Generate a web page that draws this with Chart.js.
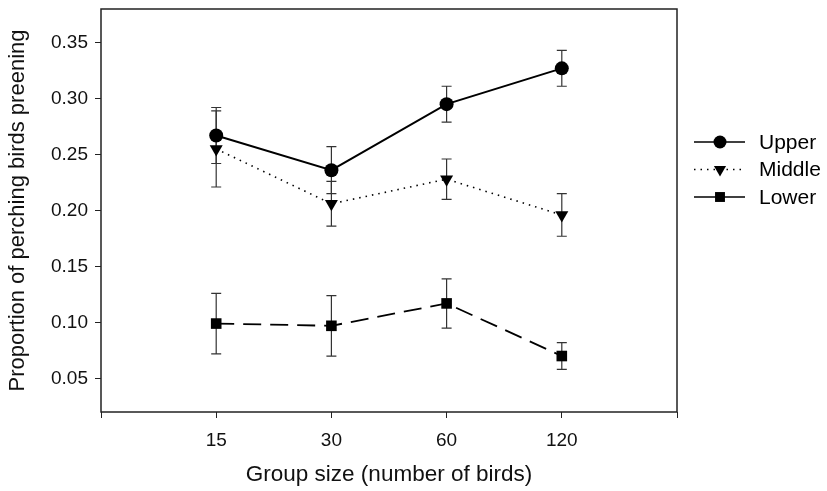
<!DOCTYPE html>
<html>
<head>
<meta charset="utf-8">
<script src="https://cdn.jsdelivr.net/npm/chart.js@4.4.0/dist/chart.umd.min.js"></script>
<style>
  html, body { margin: 0; padding: 0; background: #fff; }
  #wrap { width: 827px; height: 491px; }
</style>
</head>
<body>
<div id="wrap"><canvas id="preenChart" width="827" height="491"></canvas></div>
<script>
// values
const groupSizes = ['15', '30', '60', '120'];
const upperMeans = [0.267, 0.236, 0.295, 0.327];
const upperErr = [0.025, 0.021, 0.016, 0.016];
const middleMeans = [0.255, 0.206, 0.228, 0.196];
const middleErr = [0.034, 0.020, 0.018, 0.019];
const lowerMeans = [0.099, 0.097, 0.117, 0.070];
const lowerErr = [0.027, 0.027, 0.022, 0.012];
const yTickValues = [0.05, 0.10, 0.15, 0.20, 0.25, 0.30, 0.35];

const FONT = '"Liberation Sans", Arial, sans-serif';
const toPoints = (arr) => arr.map((v, i) => ({ x: i + 1, y: v }));

const series = [
    { label: 'Upper', means: upperMeans, err: upperErr, dash: [], legendDash: [], width: 2, point: 'circle', radius: 7, rotation: 0 },
    { label: 'Middle', means: middleMeans, err: middleErr, dash: [1.5, 5], legendDash: [1.5, 5], width: 1.6, point: 'triangle', radius: 7.5, rotation: 180 },
    { label: 'Lower', means: lowerMeans, err: lowerErr, dash: [18, 9], legendDash: [], width: 1.8, point: 'rect', radius: 7.5, rotation: 0 }
];

// error bars, drawn under the markers
const errorBars = {
    id: 'errorBars',
    beforeDatasetsDraw(chart) {
        const ctx = chart.ctx;
        const xs = chart.scales.x, ys = chart.scales.y;
        ctx.save();
        ctx.strokeStyle = '#333';
        ctx.lineWidth = 1.2;
        series.forEach(s => {
            s.means.forEach((m, i) => {
                const px = xs.getPixelForValue(i + 1);
                const top = ys.getPixelForValue(m + s.err[i]);
                const bot = ys.getPixelForValue(m - s.err[i]);
                ctx.beginPath();
                ctx.moveTo(px, top); ctx.lineTo(px, bot);
                ctx.moveTo(px - 5, top); ctx.lineTo(px + 5, top);
                ctx.moveTo(px - 5, bot); ctx.lineTo(px + 5, bot);
                ctx.stroke();
            });
        });
        ctx.restore();
    }
};

// frame around the plot and the legend on the right
const frameAndLegend = {
    id: 'frameAndLegend',
    afterDraw(chart) {
        const ctx = chart.ctx;
        const a = chart.chartArea;
        ctx.save();
        ctx.strokeStyle = '#222';
        ctx.lineWidth = 1.5;
        ctx.strokeRect(a.left, a.top, a.right - a.left, a.bottom - a.top);

        const lx = a.right + 17;
        let ly = a.top + 133;
        ctx.font = '21px ' + FONT;
        ctx.textBaseline = 'middle';
        series.forEach(s => {
            ctx.strokeStyle = '#000';
            ctx.lineWidth = s.label === 'Middle' ? 1.4 : 1.6;
            ctx.setLineDash(s.legendDash);
            ctx.beginPath();
            ctx.moveTo(lx, ly); ctx.lineTo(lx + 51, ly);
            ctx.stroke();
            ctx.setLineDash([]);
            ctx.fillStyle = '#000';
            Chart.helpers.drawPoint(ctx, {
                pointStyle: s.point, radius: s.radius - 0.5, rotation: s.rotation, borderWidth: 0
            }, lx + 26, ly);
            ctx.fillText(s.label, lx + 65, ly + 1);
            ly += 27.5;
        });
        ctx.restore();
    }
};

new Chart(document.getElementById('preenChart'), {
    type: 'line',
    data: {
        datasets: series.map(s => ({
            label: s.label,
            data: toPoints(s.means),
            borderColor: '#000',
            backgroundColor: '#000',
            borderWidth: s.width,
            borderDash: s.dash,
            pointStyle: s.point,
            pointRadius: s.radius,
            pointRotation: s.rotation,
            pointBorderWidth: 0,
            pointBackgroundColor: '#000',
            tension: 0,
            fill: false
        }))
    },
    options: {
        responsive: false,
        animation: false,
        events: [],
        layout: { padding: { top: 9, right: 150, left: 0, bottom: 0 } },
        plugins: { legend: { display: false }, tooltip: { enabled: false } },
        scales: {
            x: {
                type: 'linear',
                min: 0,
                max: 5,
                afterBuildTicks: (scale) => {
                    scale.ticks = [0, 1, 2, 3, 4, 5].map(v => ({ value: v }));
                },
                afterFit: (scale) => {
                    scale.height = 79;
                    scale.paddingLeft = 0;
                    scale.paddingRight = 0;
                },
                ticks: {
                    autoSkip: false,
                    maxRotation: 0,
                    padding: 11,
                    color: '#111',
                    font: { family: FONT, size: 19 },
                    callback: (v) => groupSizes[v - 1] || ''
                },
                grid: { drawOnChartArea: false, drawTicks: true, tickLength: 6, color: '#222' },
                border: { display: false },
                title: {
                    display: true,
                    text: 'Group size (number of birds)',
                    color: '#111',
                    font: { family: FONT, size: 22.5 },
                    padding: { top: 5, bottom: 3 }
                }
            },
            y: {
                min: 0.02,
                max: 0.38,
                afterBuildTicks: (scale) => {
                    scale.ticks = yTickValues.map(v => ({ value: v }));
                },
                afterFit: (scale) => {
                    scale.width = 101;
                    scale.paddingTop = 0;
                    scale.paddingBottom = 0;
                },
                ticks: {
                    padding: 7,
                    color: '#111',
                    font: { family: FONT, size: 19 },
                    callback: (v) => Number(v).toFixed(2)
                },
                grid: { drawOnChartArea: false, drawTicks: true, tickLength: 6, color: '#222' },
                border: { display: false },
                title: {
                    display: true,
                    text: 'Proportion of perching birds preening',
                    color: '#111',
                    font: { family: FONT, size: 22 },
                    padding: { top: 5, bottom: 0 }
                }
            }
        }
    },
    plugins: [errorBars, frameAndLegend]
});
</script>
</body>
</html>
